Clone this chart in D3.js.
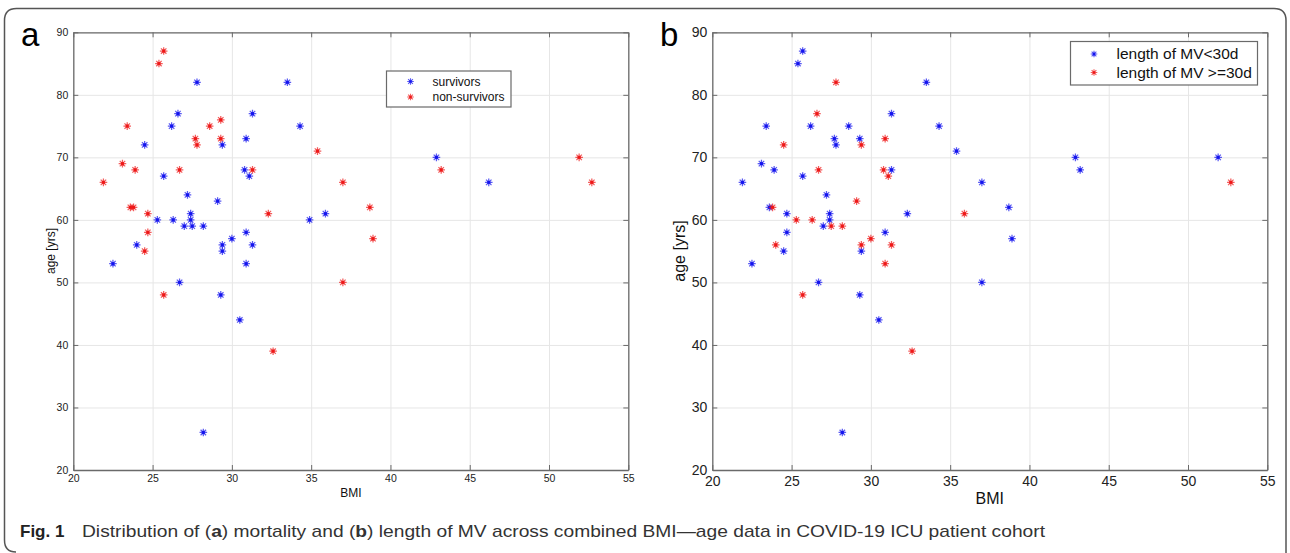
<!DOCTYPE html>
<html lang="en">
<head>
<meta charset="utf-8">
<title>BMI vs age, ICU cohort</title>
<script src="https://d3js.org/d3.v7.min.js"></script>
<style>
  body { margin: 0; background: #fff; }
  text { font-family: "Liberation Sans", Arial, sans-serif; }
</style>
</head>
<body>
<script type="text/javascript">

// Ticks
var xTicks = [20, 25, 30, 35, 40, 45, 50, 55];
var yTicks = [20, 30, 40, 50, 60, 70, 80, 90];

// Panel a: mortality  [BMI, age]
var survivors = [
  [27.8,82],[33.5,82],[26.6,77],[26.2,75],[31.3,77],[34.3,75],[29.4,72],[30.9,73],
  [24.5,72],[25.7,67],[30.8,68],[31.1,67],[27.2,64],[29.1,63],[25.3,60],[26.3,60],
  [27.4,61],[27.4,60],[27.0,59],[27.5,59],[28.2,59],[34.9,60],[35.9,61],[24.0,56],
  [29.4,56],[30.0,57],[30.9,58],[31.3,56],[22.5,53],[26.7,50],[29.3,48],[29.4,55],
  [30.9,53],[30.5,44],[28.2,26],[42.9,70],[46.2,66]
];
var nonSurvivors = [
  [21.9,66],[25.7,87],[25.4,85],[23.4,75],[29.3,76],[28.6,75],[27.7,73],[27.8,72],
  [29.3,73],[35.4,71],[23.1,69],[23.9,68],[26.7,68],[31.3,68],[23.6,62],[23.8,62],
  [24.7,61],[32.3,61],[24.7,58],[24.5,55],[25.7,48],[32.6,39],[43.2,68],[51.9,70],
  [52.7,66],[37.0,66],[38.7,62],[38.9,57],[37.0,50]
];

// Panel b: length of mechanical ventilation  [BMI, age]
var mvShort = [
  [21.9,66],[25.7,87],[25.4,85],[33.5,82],[23.4,75],[26.2,75],[28.6,75],[27.7,73],
  [27.8,72],[29.3,73],[31.3,77],[34.3,75],[35.4,71],[23.1,69],[23.9,68],[25.7,67],
  [31.3,68],[27.2,64],[23.6,62],[24.7,61],[27.4,61],[27.4,60],[27.0,59],[32.3,61],
  [37.0,66],[24.7,58],[24.5,55],[29.4,55],[30.9,58],[22.5,53],[26.7,50],[29.3,48],
  [30.5,44],[28.2,26],[37.0,50],[38.7,62],[38.9,57],[42.9,70],[43.2,68],[51.9,70]
];
var mvLong = [
  [27.8,82],[26.6,77],[29.4,72],[30.9,73],[24.5,72],[26.7,68],[30.8,68],[31.1,67],
  [29.1,63],[23.8,62],[25.3,60],[26.3,60],[27.5,59],[28.2,59],[35.9,61],[24.0,56],
  [29.4,56],[30.0,57],[31.3,56],[30.9,53],[25.7,48],[32.6,39],[52.7,66]
];

var BLUE = "#1414ee", RED = "#ee1818";
var w = 1290, h = 553;
var plotTop = 32.3, plotBottom = 470;

var svg = d3.select("body").append("svg")
  .attr("width", w).attr("height", h);

// outer figure frame
svg.append("path")
  .attr("d", "M16,552 Q4.5,552 4.5,540 L4.5,20.5 Q4.5,8.5 16.5,8.5 L1274,8.5 Q1286,8.5 1286,20.5 L1286,553")
  .attr("fill", "none").attr("stroke", "#555").attr("stroke-width", 1.5);

// asterisk marker
function star(r) {
  var k = r * 0.72;
  return "M" + (-r) + ",0L" + r + ",0M0," + (-r) + "L0," + r +
         "M" + (-k) + "," + (-k) + "L" + k + "," + k +
         "M" + (-k) + "," + k + "L" + k + "," + (-k);
}

function drawMarks(g, data, x, y, color) {
  var m = g.append("g").selectAll("g")
    .data(data).enter().append("g")
    .attr("transform", function(d) { return "translate(" + x(d[0]) + "," + y(d[1]) + ")"; });
  m.append("path").attr("d", star(3.8))
    .attr("stroke", color).attr("stroke-width", 1.25).attr("stroke-opacity", 0.7).attr("fill", "none");
  m.append("rect").attr("x", -1.5).attr("y", -1.5).attr("width", 3).attr("height", 3)
    .attr("fill", color);
}

function panel(o) {
  var x = d3.scaleLinear().domain([20, 55]).range([o.left, o.right]);
  var y = d3.scaleLinear().domain([20, 90]).range([plotBottom, plotTop]);
  var g = svg.append("g");

  // grid
  g.append("g").attr("transform", "translate(0," + plotBottom + ")")
    .call(d3.axisBottom(x).tickValues(xTicks).tickSize(-(plotBottom - plotTop)).tickFormat(""))
    .call(function(s) { s.select(".domain").remove(); s.selectAll("line").attr("stroke", "#e6e6e6"); });
  g.append("g").attr("transform", "translate(" + o.left + ",0)")
    .call(d3.axisLeft(y).tickValues(yTicks).tickSize(-(o.right - o.left)).tickFormat(""))
    .call(function(s) { s.select(".domain").remove(); s.selectAll("line").attr("stroke", "#e6e6e6"); });

  // axes with inward ticks
  function style(s) {
    s.select(".domain").attr("stroke", "#6a6a6a").attr("stroke-width", 1.3);
    s.selectAll("line").attr("stroke", "#6a6a6a");
    s.selectAll("text").attr("fill", "#222").attr("font-size", o.tick + "px")
      .attr("font-family", "Liberation Sans, Arial, sans-serif");
  }
  g.append("g").attr("transform", "translate(0," + plotBottom + ")")
    .call(d3.axisBottom(x).tickValues(xTicks).tickSizeInner(-5).tickSizeOuter(0).tickPadding(o.xpad))
    .call(style);
  g.append("g").attr("transform", "translate(0," + plotTop + ")")
    .call(d3.axisTop(x).tickValues(xTicks).tickSizeInner(-5).tickSizeOuter(0).tickFormat(""))
    .call(style);
  g.append("g").attr("transform", "translate(" + o.left + ",0)")
    .call(d3.axisLeft(y).tickValues(yTicks).tickSizeInner(-5).tickSizeOuter(0).tickPadding(5))
    .call(style);
  g.append("g").attr("transform", "translate(" + o.right + ",0)")
    .call(d3.axisRight(y).tickValues(yTicks).tickSizeInner(-5).tickSizeOuter(0).tickFormat(""))
    .call(style);

  // axis labels
  g.append("text").attr("x", (o.left + o.right) / 2).attr("y", o.xlabY)
    .attr("text-anchor", "middle").attr("font-size", o.lab + "px").attr("fill", "#111").text("BMI");
  g.append("text").attr("transform", "translate(" + o.ylabX + ",251) rotate(-90)")
    .attr("text-anchor", "middle").attr("font-size", o.lab + "px").attr("fill", "#111").text("age [yrs]");

  // panel letter
  g.append("text").attr("x", o.letterX).attr("y", 46).attr("font-size", "33px").attr("fill", "#000").text(o.letter);

  // points
  o.series.forEach(function(s) { drawMarks(g, s.data, x, y, s.color); });

  // legend
  var L = o.legend;
  g.append("rect").attr("x", L.x).attr("y", L.y).attr("width", L.w).attr("height", L.h)
    .attr("fill", "#fff").attr("stroke", "#6a6a6a").attr("stroke-width", 1.2);
  o.series.forEach(function(s, i) {
    var ly = L.y + L.row0 + i * L.step;
    var lg = g.append("g").attr("transform", "translate(" + (L.x + L.mx) + "," + ly + ")");
    lg.append("path").attr("d", star(3.3)).attr("stroke", s.color).attr("stroke-width", 1.1)
      .attr("stroke-opacity", 0.7).attr("fill", "none");
    lg.append("rect").attr("x", -1.2).attr("y", -1.2).attr("width", 2.4).attr("height", 2.4).attr("fill", s.color);
    g.append("text").attr("x", L.x + L.tx).attr("y", ly).attr("dy", "0.35em")
      .attr("font-size", L.fs + "px").attr("fill", "#111").text(s.name);
  });
}

panel({
  left: 73.3, right: 628.3, tick: 10.5, xpad: 5, lab: 12, xlabY: 497, ylabX: 55,
  letter: "a", letterX: 21,
  series: [
    { name: "survivors", data: survivors, color: BLUE },
    { name: "non-survivors", data: nonSurvivors, color: RED }
  ],
  legend: { x: 386.5, y: 71, w: 124.5, h: 36, row0: 10.5, step: 15.5, mx: 24, tx: 46, fs: 12 }
});

panel({
  left: 712.3, right: 1267.3, tick: 14, xpad: 6, lab: 16, xlabY: 504, ylabX: 685,
  letter: "b", letterX: 660,
  series: [
    { name: "length of MV<30d", data: mvShort, color: BLUE },
    { name: "length of MV >=30d", data: mvLong, color: RED }
  ],
  legend: { x: 1070.5, y: 41.5, w: 187, h: 43.5, row0: 12.5, step: 18.5, mx: 23.5, tx: 46, fs: 15.5 }
});

// caption
var cap = svg.append("text").attr("x", 20).attr("y", 537)
  .attr("font-family", "Liberation Sans Narrow, DejaVu Sans Condensed, sans-serif")
  .attr("font-size", "17px").attr("fill", "#222");
cap.append("tspan").attr("font-weight", "bold").text("Fig. 1");
var desc = svg.append("text").attr("x", 82).attr("y", 537)
  .attr("font-family", "Liberation Sans Narrow, DejaVu Sans Condensed, sans-serif")
  .attr("font-size", "17px").attr("fill", "#333")
  .attr("textLength", 963).attr("lengthAdjust", "spacingAndGlyphs");
desc.append("tspan").text("Distribution of (");
desc.append("tspan").attr("font-weight", "bold").text("a");
desc.append("tspan").text(") mortality and (");
desc.append("tspan").attr("font-weight", "bold").text("b");
desc.append("tspan").text(") length of MV across combined BMI\u2014age data in COVID-19 ICU patient cohort");

</script>
</body>
</html>
